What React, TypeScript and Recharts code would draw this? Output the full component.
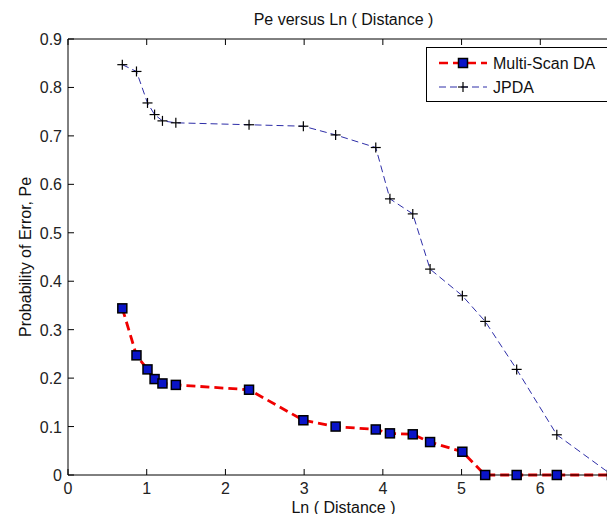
import React from "react";
import { Line, LineChart, XAxis, YAxis } from "recharts";

// ln(distance) sample points, shared by both series
const lnDistance = [0.69, 0.87, 1.01, 1.1, 1.2, 1.37, 2.3, 2.99, 3.4, 3.91, 4.09, 4.38, 4.6, 5.01, 5.3, 5.7, 6.21, 6.91];
const multiScanPe = [0.344, 0.247, 0.218, 0.198, 0.189, 0.186, 0.176, 0.113, 0.1, 0.094, 0.086, 0.084, 0.068, 0.048, 0, 0, 0, 0];
const jpdaPe = [0.847, 0.833, 0.768, 0.744, 0.731, 0.727, 0.723, 0.72, 0.702, 0.676, 0.57, 0.539, 0.425, 0.37, 0.317, 0.218, 0.083, 0];

const xTicks = [0, 1, 2, 3, 4, 5, 6, 7];
const yTicks = [0, 0.1, 0.2, 0.3, 0.4, 0.5, 0.6, 0.7, 0.8, 0.9];

const data = lnDistance.map((x, i) => ({ x, ms: multiScanPe[i], jpda: jpdaPe[i] }));

const FONT = "'Liberation Sans', Arial, sans-serif";
const FS = 16;
const TICK_LEN = 6;
const RED = "#f00000";
const NAVY = "#2e2ea8";
const SQUARE_FILL = "#0a14c8";

const W = 640;
const H = 522;
const PLOT = { left: 68, top: 39, right: 619, bottom: 475 };

function BottomTick({ x, y, payload }: any) {
  // the last label (7) falls outside the cropped figure
  const showLabel = payload.value < 7;
  return (
    <g>
      <line x1={x} y1={y} x2={x} y2={y - TICK_LEN} stroke="#000" />
      {showLabel && (
        <text x={x} y={y + 19} textAnchor="middle" fontSize={FS} fill="#222" fontFamily={FONT}>
          {payload.value}
        </text>
      )}
    </g>
  );
}

function LeftTick({ x, y, payload }: any) {
  return (
    <g>
      <line x1={x} y1={y} x2={x + TICK_LEN} y2={y} stroke="#000" />
      <text x={x - 6} y={y + 6} textAnchor="end" fontSize={FS} fill="#222" fontFamily={FONT}>
        {payload.value}
      </text>
    </g>
  );
}

function TopTick({ x, y }: any) {
  return <line x1={x} y1={y} x2={x} y2={y + TICK_LEN} stroke="#000" />;
}

function RightTick({ x, y }: any) {
  return <line x1={x} y1={y} x2={x - TICK_LEN} y2={y} stroke="#000" />;
}

function SquareDot({ cx, cy, index }: any) {
  return <rect key={`sq-${index}`} x={cx - 4.5} y={cy - 4.5} width={9} height={9} fill={SQUARE_FILL} stroke="#000" strokeWidth={1.5} />;
}

function PlusDot({ cx, cy, index }: any) {
  return (
    <g key={`pl-${index}`} stroke="#000" strokeWidth={1.2}>
      <line x1={cx - 5} y1={cy} x2={cx + 5} y2={cy} />
      <line x1={cx} y1={cy - 5} x2={cx} y2={cy + 5} />
    </g>
  );
}

function LegendBox() {
  return (
    <div
      style={{
        position: "absolute",
        left: 426,
        top: 47,
        width: 180,
        height: 53,
        border: "1px solid #000",
        background: "#fff",
      }}
    >
      <svg width={180} height={53} style={{ display: "block" }}>
        <line x1={12} y1={15} x2={60} y2={15} stroke={RED} strokeWidth={2.5} strokeDasharray="9 5" />
        <rect x={31.5} y={10.5} width={9} height={9} fill={SQUARE_FILL} stroke="#000" strokeWidth={1.5} />
        <text x={66} y={21} fontSize={FS} fill="#111" fontFamily={FONT}>Multi-Scan DA</text>
        <line x1={12} y1={39} x2={60} y2={39} stroke={NAVY} strokeWidth={1} strokeDasharray="7 4" />
        <g stroke="#000" strokeWidth={1.2}>
          <line x1={31} y1={39} x2={41} y2={39} />
          <line x1={36} y1={34} x2={36} y2={44} />
        </g>
        <text x={66} y={45} fontSize={FS} fill="#111" fontFamily={FONT}>JPDA</text>
      </svg>
    </div>
  );
}

export default function App() {
  const midX = (PLOT.left + PLOT.right) / 2;
  const midY = (PLOT.top + PLOT.bottom) / 2;
  return (
    <div style={{ margin: -8, width: 615, height: 522, overflow: "hidden", position: "relative", background: "#fff" }}>
      <LineChart
        width={W}
        height={H}
        data={data}
        margin={{ top: PLOT.top - 1, left: PLOT.left - 1, right: W - PLOT.right - 1, bottom: H - PLOT.bottom - 1 }}
      >
        <XAxis
          xAxisId="bottom"
          dataKey="x"
          type="number"
          domain={[0, 7]}
          ticks={xTicks}
          height={1}
          tickSize={0}
          tickMargin={0}
          tickLine={false}
          axisLine={{ stroke: "#000" }}
          tick={<BottomTick />}
          interval={0}
        />
        <XAxis
          xAxisId="top"
          orientation="top"
          dataKey="x"
          type="number"
          domain={[0, 7]}
          ticks={xTicks}
          height={1}
          tickSize={0}
          tickMargin={0}
          tickLine={false}
          axisLine={{ stroke: "#000" }}
          tick={<TopTick />}
          interval={0}
        />
        <YAxis
          yAxisId="left"
          type="number"
          domain={[0, 0.9]}
          ticks={yTicks}
          width={1}
          tickSize={0}
          tickMargin={0}
          tickLine={false}
          axisLine={{ stroke: "#000" }}
          tick={<LeftTick />}
          interval={0}
        />
        <YAxis
          yAxisId="right"
          orientation="right"
          type="number"
          domain={[0, 0.9]}
          ticks={yTicks}
          width={1}
          tickSize={0}
          tickMargin={0}
          tickLine={false}
          axisLine={{ stroke: "#000" }}
          tick={<RightTick />}
          interval={0}
        />
        <Line
          xAxisId="bottom"
          yAxisId="left"
          dataKey="jpda"
          type="linear"
          stroke={NAVY}
          strokeWidth={1}
          strokeDasharray="7 4"
          dot={<PlusDot />}
          isAnimationActive={false}
        />
        <Line
          xAxisId="bottom"
          yAxisId="left"
          dataKey="ms"
          type="linear"
          stroke={RED}
          strokeWidth={2.8}
          strokeDasharray="9 5"
          dot={<SquareDot />}
          isAnimationActive={false}
        />
      </LineChart>
      <svg width={615} height={522} style={{ position: "absolute", left: 0, top: 0, pointerEvents: "none" }}>
        <text x={midX} y={25} textAnchor="middle" fontSize={FS} fill="#111" fontFamily={FONT}>
          Pe versus Ln ( Distance )
        </text>
        <text x={midX} y={513} textAnchor="middle" fontSize={FS} fill="#111" fontFamily={FONT}>
          Ln ( Distance )
        </text>
        <text
          x={0}
          y={0}
          transform={`translate(31, ${midY}) rotate(-90)`}
          textAnchor="middle"
          fontSize={FS}
          fill="#111"
          fontFamily={FONT}
        >
          Probability of Error, Pe
        </text>
      </svg>
      <LegendBox />
    </div>
  );
}
